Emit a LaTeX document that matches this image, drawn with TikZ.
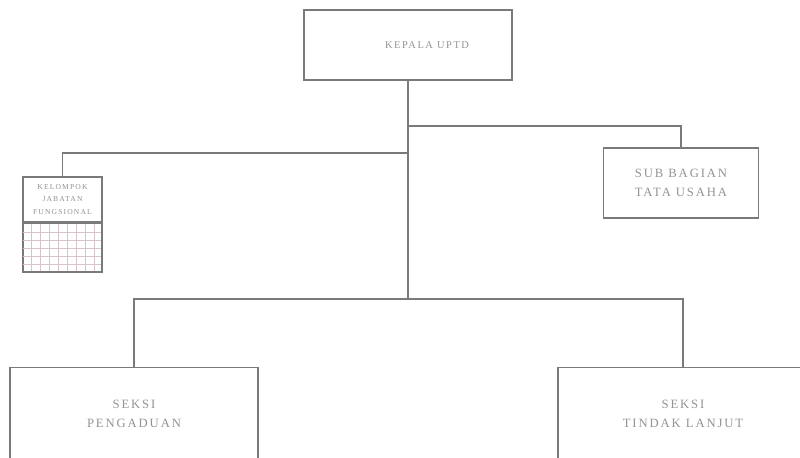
\documentclass[tikz,border=0pt]{standalone}
\usepackage{fontspec}
\newfontfamily\orgfont{Liberation Serif}[LetterSpace=15]
\usepackage{tikz}
\usetikzlibrary{positioning}
\definecolor{Rule}{HTML}{7A7A7A}
\definecolor{Label}{HTML}{939393}
\definecolor{Hatch}{HTML}{D9C4CC}
\tikzset{
  unit/.style={
    draw=Rule, line width=0.9pt, fill=white, inner sep=0pt,
    align=center, text=Label, font=\orgfont\fontsize{9}{13.5}\selectfont
  },
  link/.style={draw=Rule, line width=0.9pt},
  hatch/.style={draw=Hatch, line width=0.4pt}
}

\begin{document}
\begin{tikzpicture}[x=0.025cm,y=-0.025cm]
    \useasboundingbox (0,0) rectangle (800,458);
    \node[unit,minimum width=5.2cm,minimum height=1.75cm,
      font=\orgfont\fontsize{7.4}{9}\selectfont] (kepala) at (408,45) {\hspace*{0.95cm}KEPALA UPTD};
    \node[unit,minimum width=3.875cm,minimum height=1.75cm] (subbag) at (681,183) {SUB BAGIAN\\TATA USAHA};
    \node[unit,minimum width=1.975cm,minimum height=1.125cm,
      font=\orgfont\fontsize{5.4}{8.8}\selectfont] (kelompok) at (62.5,199.5) {KELOMPOK\\JABATAN\\FUNGSIONAL};
    \node[unit,minimum width=1.975cm,minimum height=1.2cm,anchor=north] (kelgrid) at (kelompok.south) {};
    \node[unit,minimum width=6.2cm,minimum height=2.3cm,anchor=north] (pengaduan) at (134,367) {SEKSI\\PENGADUAN};
    \node[unit,minimum width=6.25cm,minimum height=2.3cm,anchor=north] (tindak) at (683,367) {SEKSI\\TINDAK LANJUT};
    \coordinate (j1) at (408,126);
    \coordinate (j2) at (408,153);
    \coordinate (j3) at (408,299);
    % grid in the lower half of the small box
    \draw[hatch,xstep=0.225cm,ystep=0.2cm,shift={(kelgrid.south west)}]
      (0.05,-0.05) grid (78.9,-47.9);
    \draw[link] (kelgrid.north west) rectangle (kelgrid.south east);
    \draw[link] (kepala) -- (j3);
    \draw[link] (j1) -| (subbag);
    \draw[link] (j2) -| (kelompok);
    \draw[link] (j3) -| (pengaduan);
    \draw[link] (j3) -| (tindak);
  \end{tikzpicture}
\end{document}
